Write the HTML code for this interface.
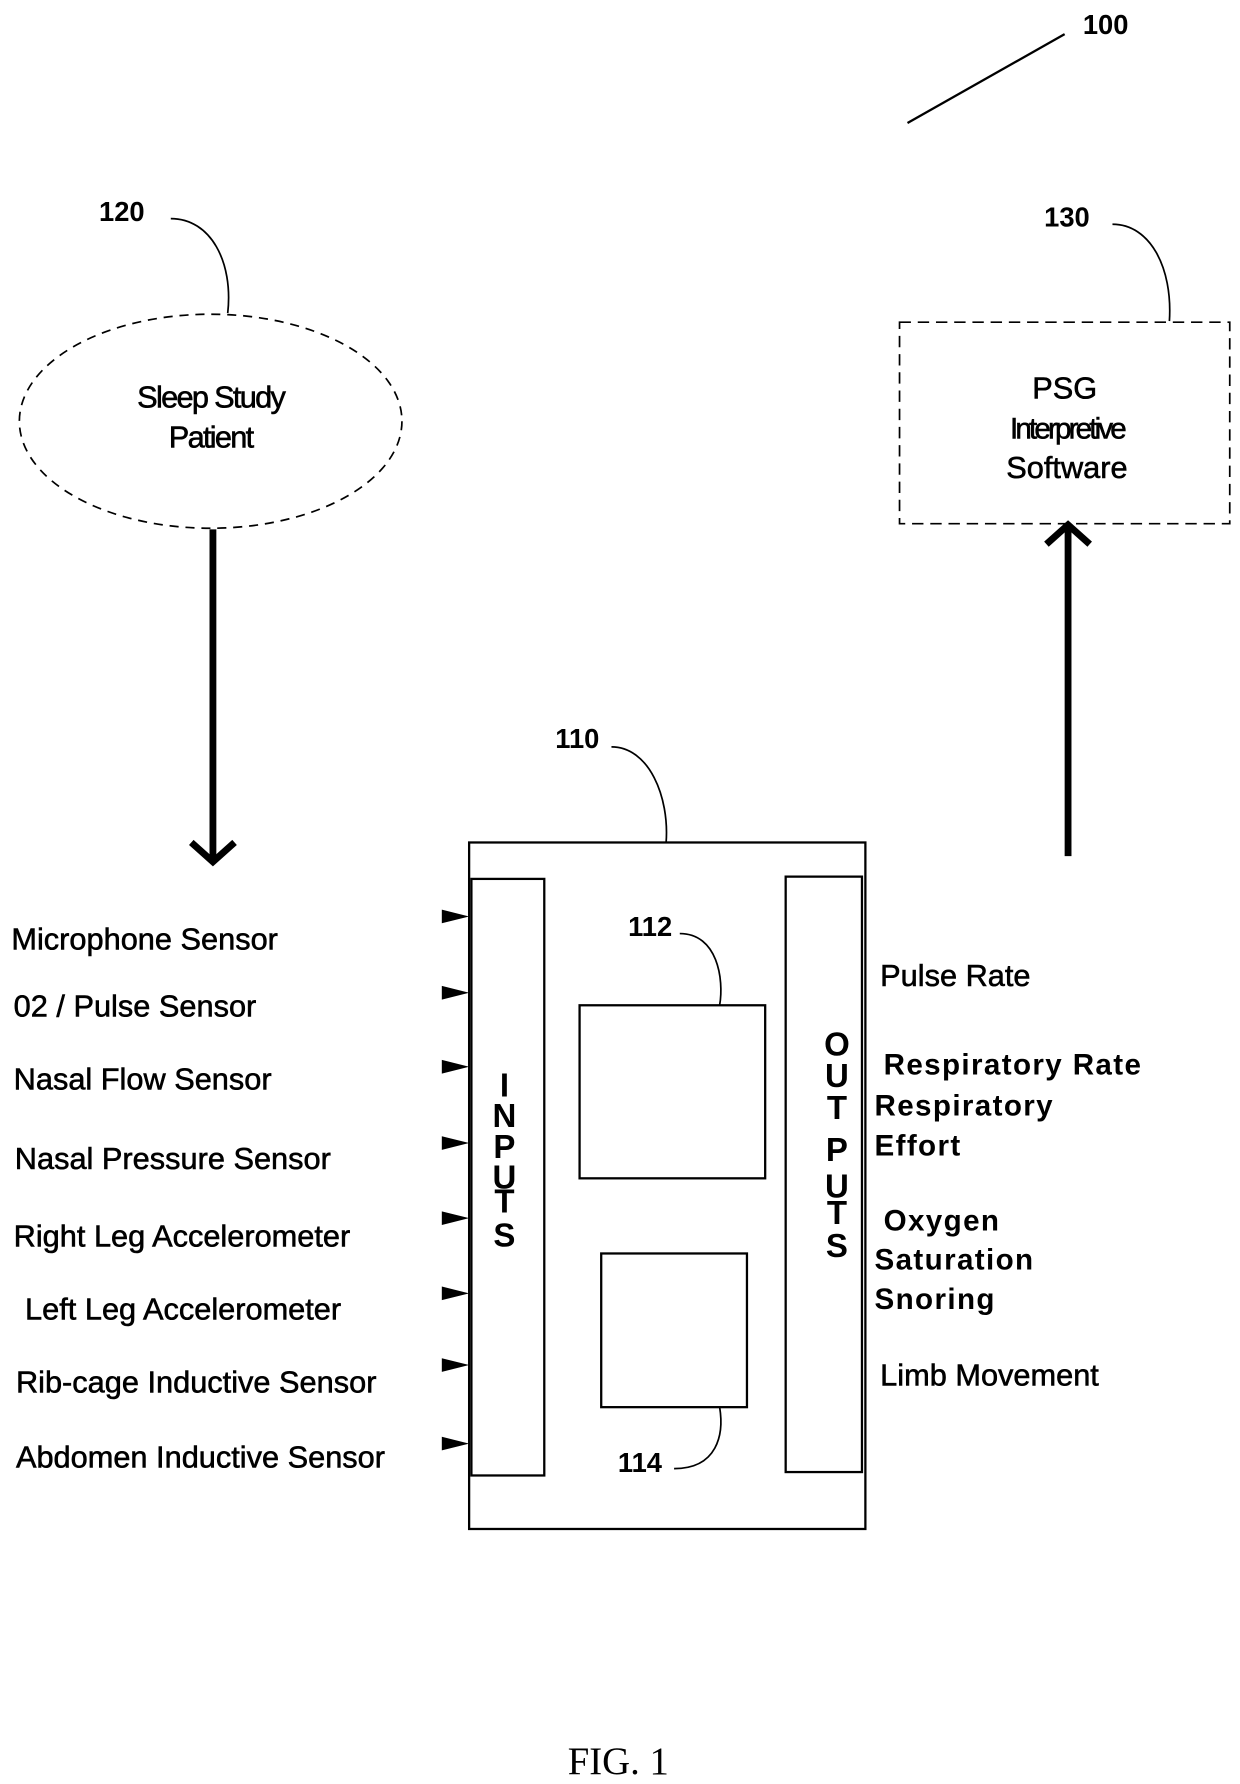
<!DOCTYPE html>
<html><head><style>html,body{margin:0;padding:0;background:#fff}svg{display:block}</style></head><body>
<svg width="1240" height="1784" viewBox="0 0 1089 1567" preserveAspectRatio="none" xmlns="http://www.w3.org/2000/svg" font-family="Liberation Sans, sans-serif" fill="none" stroke="#000">
<g fill="#000" stroke="none" font-size="24" font-weight="bold">
<text x="971" y="30" text-anchor="middle">100</text>
<text x="107" y="194" text-anchor="middle">120</text>
<text x="937" y="199" text-anchor="middle">130</text>
<text x="507" y="657" text-anchor="middle">110</text>
<text x="571" y="822" text-anchor="middle">112</text>
<text x="562" y="1293" text-anchor="middle">114</text>
</g>
<line x1="797" y1="108" x2="935" y2="30" stroke-width="2"/>
<path d="M150 192 C185 192 205 230 200 275" stroke-width="1.5"/>
<path d="M977 197 C1010 197 1030 235 1027 282" stroke-width="1.5"/>
<path d="M537 656 C570 656 588 700 585 740" stroke-width="1.5"/>
<path d="M597 820 C630 820 636 860 632 883" stroke-width="1.5"/>
<path d="M592 1290 C630 1290 636 1260 632 1236" stroke-width="1.5"/>
<ellipse cx="185" cy="370" rx="168" ry="94" stroke-width="1.5" stroke-dasharray="8,6"/>
<rect x="790" y="283" width="290" height="177" stroke-width="1.5" stroke-dasharray="10,6"/>
<g fill="#000" stroke="#000" stroke-width="0.5" font-size="27" text-anchor="middle" letter-spacing="-1.5">
<text x="185" y="358">Sleep Study</text>
<text x="185" y="393">Patient</text>
<text x="935" y="350" letter-spacing="0">PSG</text>
<text x="937" y="385" letter-spacing="-2.5" font-size="26">Interpretive</text>
<text x="937" y="420" letter-spacing="0">Software</text>
</g>
<line x1="187" y1="465" x2="187" y2="755" stroke-width="6"/>
<polyline points="168,740 187,757 206,740" stroke-width="6"/>
<line x1="938" y1="752" x2="938" y2="462" stroke-width="6"/>
<polyline points="919,478 938,461 957,478" stroke-width="6"/>
<rect x="412" y="740" width="348" height="603" stroke-width="2"/>
<rect x="414" y="772" width="64" height="524" stroke-width="2"/>
<rect x="690" y="770" width="67" height="523" stroke-width="2"/>
<rect x="509" y="883" width="163" height="152" stroke-width="2"/>
<rect x="528" y="1101" width="128" height="135" stroke-width="2"/>
<g fill="#000" stroke="none" font-size="29" font-weight="bold" text-anchor="middle">
<text x="443" y="963">I</text><text x="443" y="990">N</text><text x="443" y="1017">P</text><text x="443" y="1044">U</text><text x="443" y="1065">T</text><text x="443" y="1095">S</text>
<text x="735" y="927">O</text><text x="735" y="955">U</text><text x="735" y="983">T</text><text x="735" y="1020">P</text><text x="735" y="1052">U</text><text x="735" y="1075">T</text><text x="735" y="1104">S</text>
</g>
<g fill="#000" stroke="none">
<polygon points="388,799 412,805 388,811"/><polygon points="388,866 412,872 388,878"/>
<polygon points="388,931 412,937 388,943"/><polygon points="388,998 412,1004 388,1010"/>
<polygon points="388,1064 412,1070 388,1076"/><polygon points="388,1130 412,1136 388,1142"/>
<polygon points="388,1193 412,1199 388,1205"/><polygon points="388,1262 412,1268 388,1274"/>
</g>
<g fill="#000" stroke="#000" stroke-width="0.5" font-size="27" letter-spacing="0">
<text x="10" y="834">Microphone Sensor</text>
<text x="12" y="893">02 / Pulse Sensor</text>
<text x="12" y="957">Nasal Flow Sensor</text>
<text x="13" y="1027">Nasal Pressure Sensor</text>
<text x="12" y="1095">Right Leg Accelerometer</text>
<text x="22" y="1159">Left Leg Accelerometer</text>
<text x="14" y="1223">Rib-cage Inductive Sensor</text>
<text x="14" y="1289">Abdomen Inductive Sensor</text>
<text x="773" y="866">Pulse Rate</text>
<text x="773" y="1217">Limb Movement</text>
</g>
<g fill="#000" stroke="none" font-size="26" font-weight="bold" letter-spacing="1.2">
<text x="776" y="944">Respiratory Rate</text>
<text x="768" y="980">Respiratory</text>
<text x="768" y="1015">Effort</text>
<text x="776" y="1081">Oxygen</text>
<text x="768" y="1115">Saturation</text>
<text x="768" y="1150">Snoring</text>
</g>
<text x="543" y="1558" text-anchor="middle" font-family="Liberation Serif, serif" font-size="34" fill="#000" stroke="none">FIG. 1</text>
</svg>
</body></html>
